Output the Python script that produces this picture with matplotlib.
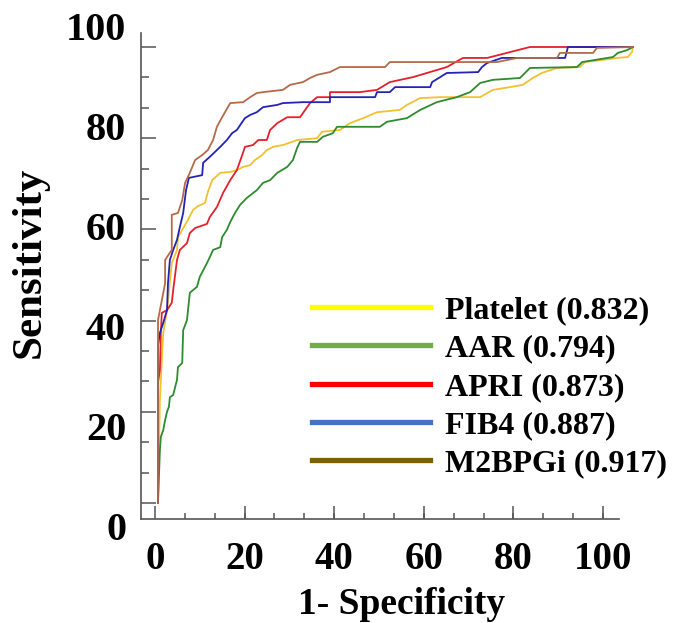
import matplotlib
matplotlib.use("Agg")
import matplotlib.pyplot as plt
from matplotlib.lines import Line2D
import numpy as np

# ROC curves (1 - specificity, sensitivity)
plt_x = [0, 0.4, 0.8, 1.1, 1.9, 2.9, 4.0, 4.2, 5.1, 6.3, 7.4, 8.4, 9.9, 10.5, 11.4, 13.1, 15.2, 16.6,
         17.9, 19.4, 20.4, 21.9, 22.9, 24.2, 26.3, 27.4, 29.3, 33.5, 34.5, 38.3, 40.4, 43.2, 46.1, 50.9,
         52.4, 55.2, 59.4, 67.8, 70.5, 74.1, 76.8, 78.9, 80.8, 84.0, 88.8, 89.9, 93.1, 96.6, 98.9, 99.8, 100]
plt_y = [0, 22.6, 31.4, 37.3, 42.3, 52.6, 55.5, 58.3, 59.9, 62.1, 64.3, 65.1, 65.8, 68.2, 70.8, 72.4, 72.6, 73.0,
         73.7, 74.1, 75.2, 76.3, 77.4, 78.1, 78.5, 78.9, 79.6, 80.0, 81.4, 81.8, 83.3, 84.4, 85.7, 86.2,
         87.3, 88.8, 89.0, 89.0, 90.6, 91.2, 91.7, 93.2, 94.3, 95.4, 95.6, 96.7, 97.1, 97.6, 97.8, 98.9, 100]

aar_x = [0, 0.4, 0.6, 1.1, 1.5, 1.9, 2.3, 2.5, 3.2, 3.6, 4.0, 4.2, 5.1, 5.3, 6.1, 6.7, 8.2, 8.8, 10.3, 10.9,
         11.6, 13.1, 13.5, 14.5, 15.2, 16.2, 17.3, 18.7, 20.8, 22.1, 23.6, 25.1, 27.2, 28.4, 29.3, 29.9,
         33.5, 34.7, 36.8, 37.7, 46.7, 48.2, 52.4, 55.2, 58.7, 62.9, 65.7, 67.8, 70.5, 76.2, 78.3, 88.2,
         89.3, 95.8, 96.8, 98.7, 100]
aar_y = [0, 11.6, 14.5, 16.0, 18.2, 20.0, 21.1, 23.2, 23.7, 25.4, 27.0, 29.8, 30.7, 37.9, 40.1, 46.1, 47.4, 49.6,
         52.6, 53.9, 55.5, 56.1, 58.3, 59.9, 61.6, 63.6, 65.4, 66.9, 68.6, 70.2, 70.8, 72.4, 73.7, 75.2,
         77.9, 79.2, 79.2, 80.3, 81.1, 82.5, 82.5, 83.6, 84.4, 86.2, 87.9, 89.0, 90.1, 92.1, 92.8, 93.2,
         95.4, 95.6, 96.7, 97.8, 98.7, 99.3, 100]

apri_x = [0, 0, 0.4, 0.6, 0.8, 1.9, 2.9, 3.2, 4.0, 4.6, 6.1, 6.7, 7.8, 10.3, 10.9, 12.4, 13.7, 15.2, 16.6,
          17.9, 18.3, 20.0, 21.1, 22.9, 23.6, 25.1, 27.2, 29.9, 32.0, 33.5, 36.2, 36.2, 42.5, 46.1, 48.8,
          53.7, 60.8, 64.2, 69.3, 78.3, 100]
apri_y = [0, 26.3, 29.2, 37.3, 41.7, 42.3, 43.9, 46.7, 53.3, 55.5, 57.0, 59.2, 60.3, 61.2, 62.7, 64.9, 68.0,
          70.8, 73.0, 76.8, 78.1, 78.5, 79.6, 79.6, 81.8, 83.3, 84.6, 84.6, 87.7, 89.0, 89.0, 90.1, 90.1,
          90.6, 92.3, 93.4, 95.6, 97.6, 97.6, 100, 100]

fib4_x = [0, 0, 0.4, 1.1, 1.9, 2.1, 2.5, 3.2, 4.0, 4.6, 5.3, 5.9, 6.5, 9.3, 9.5, 10.9, 12.0, 13.1, 14.5, 15.6,
          16.6, 18.3, 19.4, 20.8, 22.1, 25.1, 26.3, 30.5, 36.2, 36.2, 45.7, 46.1, 48.8, 49.9, 57.3, 57.7,
          60.8, 67.4, 68.2, 69.3, 72.4, 85.7, 86.3, 100]
fib4_y = [0, 34.6, 37.3, 39.5, 42.3, 48.2, 53.3, 55.5, 57.7, 60.5, 63.6, 68.6, 71.3, 71.9, 74.6, 75.9, 77.0,
          78.1, 79.6, 81.1, 81.8, 84.4, 85.1, 85.7, 86.8, 87.3, 87.7, 87.9, 87.9, 89.0, 89.0, 90.1, 90.1,
          91.2, 91.2, 92.3, 94.3, 94.5, 95.6, 96.5, 97.6, 97.6, 100, 100]

m2_x = [0, 0, 1.5, 1.5, 2.9, 2.9, 4.2, 5.1, 5.7, 6.7, 7.8, 9.3, 10.5, 11.6, 12.4, 13.5, 15.2, 17.9, 19.4,
        20.8, 22.1, 26.3, 27.8, 30.5, 32.0, 33.5, 36.2, 38.3, 47.8, 48.8, 71.4, 75.6, 84.0, 84.6, 91.6,
        92.4, 100]
m2_y = [0, 40.1, 48.2, 53.3, 55.5, 63.2, 63.6, 66.4, 70.2, 72.4, 75.2, 76.3, 77.4, 79.6, 82.5, 84.6, 87.7,
        87.9, 89.0, 89.9, 90.1, 90.6, 91.7, 92.3, 93.2, 93.9, 94.5, 95.6, 95.6, 96.7, 96.7, 97.6, 97.6,
        98.7, 98.7, 99.8, 100]

labels = ["Platelet (0.832)", "AAR (0.794)", "APRI (0.873)", "FIB4 (0.887)", "M2BPGi (0.917)"]
curve_colors = ["#f2c12e", "#2e8b2e", "#e5202b", "#2323b5", "#b46a4a"]
legend_colors = ["#ffff00", "#70ad47", "#ff0000", "#4472c4", "#7f6000"]

ytick_labels = [0, 20, 40, 60, 80, 100]
xtick_labels = [0, 20, 40, 60, 80, 100]

W, H = 675, 623
plt.rcParams['font.family'] = ['Liberation Serif', 'DejaVu Serif']
plt.rcParams['font.weight'] = 'bold'

fig = plt.figure(figsize=(W / 100, H / 100), dpi=100)

# frame in pixels, and the curve scale (0 at x0/y0, px per unit)
left_px, right_px, bottom_px, top_px = 141, 619, 519, 33
x0_px, xs = 158, 4.75
y0_px, ys = 503, 4.56

ax = fig.add_axes([left_px / W, 1 - bottom_px / H, (right_px - left_px) / W, (bottom_px - top_px) / H])
ax.set_xlim((left_px - x0_px) / xs, (right_px - x0_px) / xs)
ax.set_ylim((y0_px - bottom_px) / ys, (y0_px - top_px) / ys)

for xs_, ys_, c in zip([plt_x, aar_x, apri_x, fib4_x, m2_x],
                       [plt_y, aar_y, apri_y, fib4_y, m2_y], curve_colors):
    ax.plot(xs_, ys_, color=c, lw=1.3, clip_on=False)

for s in ['top', 'right']:
    ax.spines[s].set_visible(False)
for s in ['left', 'bottom']:
    ax.spines[s].set_color('#555555')
    ax.spines[s].set_linewidth(1.2)

# y ticks (labels are placed separately, as in the picture)
ax.set_yticks(np.arange(0, 101, 20))
ax.set_yticks(np.arange(0, 101, 20 / 3), minor=True)
ax.tick_params(axis='y', which='both', direction='in', labelleft=False, color='#555555', width=1.1)
ax.tick_params(axis='y', which='major', length=11)
ax.tick_params(axis='y', which='minor', length=6)

# x ticks
xmaj = [(155 + k * 89.6 - x0_px) / xs for k in range(6)]
xmin = [(155 + k * 29.87 - x0_px) / xs for k in range(16)]
ax.set_xticks(xmaj, [str(v) for v in xtick_labels])
ax.set_xticks(xmin, minor=True)
ax.tick_params(axis='x', which='both', direction='in', color='#555555', width=1.1)
ax.tick_params(axis='x', which='major', length=9.5, pad=16, labelsize=28)
ax.tick_params(axis='x', which='minor', length=4.5)
for t in ax.get_xticklabels():
    t.set_fontweight('bold')

for v in ytick_labels:
    ypx = 31 + (100 - v) * 4.99
    fig.text(126 / W, 1 - ypx / H, str(v), ha='right', va='center', fontsize=29, fontweight='bold')

fig.text(30 / W, 1 - 262 / H, "Sensitivity", rotation=90, ha='center', va='center',
         fontsize=31, fontweight='bold')
fig.text(402 / W, 1 - 604 / H, "1- Specificity", ha='center', va='center',
         fontsize=27, fontweight='bold')

handles = [Line2D([], [], color=c, lw=3.8) for c in legend_colors]
leg = fig.legend(handles, labels, loc='upper left', bbox_to_anchor=(312 / W, 1 - 296 / H),
                 frameon=False, handlelength=3.7, handletextpad=0.45,
                 labelspacing=0.28, borderpad=0, borderaxespad=0, prop={'weight': 'bold', 'size': 23})

fig.savefig("out.png", dpi=100)
